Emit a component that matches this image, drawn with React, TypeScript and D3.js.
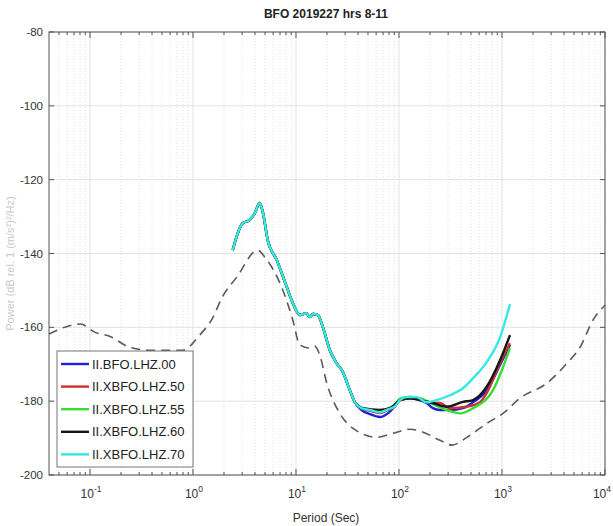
import React from "react";
import * as d3 from "d3";

const TITLE = "BFO 2019227 hrs 8-11";
const X_LABEL = "Period (Sec)";
const Y_LABEL = "Power (dB rel. 1 (m/s²)²/Hz)";
const Y_TICKS = [-80, -100, -120, -140, -160, -180, -200];
const X_DECADES = [-1, 0, 1, 2, 3, 4];

// shared early part (all channels nearly identical)
const commonP = [2.43, 2.64, 3.04, 3.56, 3.98, 4.45, 4.76, 5.32, 6.51, 8.14, 9.31, 10.9, 12.6, 13.6, 14.6, 16.3, 18.2, 21.3, 24.8, 28.5, 33.3, 37.3];
const commonDb = [-139.1, -135.6, -131.8, -130.9, -129.1, -126.3, -128.8, -136.4, -141.8, -149.1, -153.4, -156.7, -156.2, -157.2, -156.4, -156.7, -159.9, -166.2, -169.7, -172.1, -177.0, -180.3];

const cyanTailP = [43.3, 52.2, 65.2, 78.0, 91.2, 102, 119, 148, 185, 232, 312, 418, 523, 710, 957, 1196];
const cyanTailDb = [-181.9, -182.4, -183.0, -182.2, -181.4, -179.7, -178.9, -178.9, -180.3, -179.7, -178.4, -176.5, -173.8, -169.4, -162.7, -153.7];

const blueTailP = [43.3, 52.2, 65.2, 78.0, 91.2, 102, 128, 160, 185, 213, 250, 312, 418, 523, 715, 957, 1196];
const blueTailDb = [-182.4, -183.5, -184.3, -183.3, -181.4, -179.7, -179.2, -179.7, -180.5, -181.9, -182.4, -182.4, -181.9, -180.3, -177.0, -170.2, -164.8];

const redTailP = [43.3, 52.2, 65.2, 78.0, 91.2, 102, 128, 160, 213, 250, 312, 454, 611, 710, 957, 1196];
const redTailDb = [-182.0, -182.6, -183.2, -182.4, -181.4, -179.7, -179.2, -179.4, -180.5, -180.5, -181.9, -181.5, -180.3, -177.8, -169.7, -164.3];

const greenTailP = [43.3, 52.2, 65.2, 78.0, 91.2, 102, 128, 160, 213, 290, 391, 523, 818, 1023, 1196];
const greenTailDb = [-181.8, -182.3, -182.9, -182.0, -181.0, -179.3, -178.8, -179.2, -180.8, -182.4, -183.3, -181.9, -177.0, -170.8, -165.6];

const blackTailP = [44.6, 65.2, 81.6, 91.2, 102, 128, 160, 213, 290, 418, 523, 710, 957, 1196];
const blackTailDb = [-181.9, -182.4, -181.9, -180.9, -179.7, -179.2, -179.7, -180.5, -181.5, -180.2, -179.7, -176.1, -168.9, -162.1];

const nlnmP = [0.04, 0.081, 0.111, 0.155, 0.243, 0.379, 0.794, 1.16, 1.55, 1.9, 2.66, 4.25, 4.98, 7.44, 9.31, 10.9, 13.6, 15.2, 17.0, 19.9, 26.6, 35.6, 61.0, 87.3, 128, 171, 250, 327, 457, 715, 1023, 1496, 2736, 4285, 5730, 7660, 10000];
const nlnmDb = [-161.8, -159.1, -161.3, -162.4, -165.4, -166.2, -166.2, -162.1, -157.5, -152.1, -146.4, -139.1, -141.0, -149.9, -158.0, -164.8, -165.6, -165.1, -167.5, -175.1, -183.3, -187.3, -189.8, -188.7, -187.6, -188.4, -190.6, -191.9, -189.8, -186.0, -183.3, -179.2, -175.1, -169.7, -165.4, -158.0, -154.0];

const SERIES = [
  { name: "II.BFO.LHZ.00", color: "#1f1fe0", p: commonP.concat(blueTailP), db: commonDb.concat(blueTailDb) },
  { name: "II.XBFO.LHZ.50", color: "#d23030", p: commonP.concat(redTailP), db: commonDb.concat(redTailDb) },
  { name: "II.XBFO.LHZ.55", color: "#33e033", p: commonP.concat(greenTailP), db: commonDb.concat(greenTailDb) },
  { name: "II.XBFO.LHZ.60", color: "#151515", p: commonP.concat(blackTailP), db: commonDb.concat(blackTailDb) },
  { name: "II.XBFO.LHZ.70", color: "#35e8e2", p: commonP.concat(cyanTailP), db: commonDb.concat(cyanTailDb) },
];

const W = 613, H = 526;
const L = 49, R = 605, T = 32, B = 475;
const FONT = "'Liberation Sans', Arial, sans-serif";

export default function App() {
  const x = d3.scaleLog().domain([0.04, 10000]).range([L, R]);
  const y = d3.scaleLinear().domain([-200, -80]).range([B, T]);
  const line = d3.line<[number, number]>().x(d => x(d[0])).y(d => y(d[1])).curve(d3.curveMonotoneX);

  const minors: number[] = [];
  for (let e = -2; e <= 3; e++) {
    for (let m = 2; m <= 9; m++) {
      const v = m * Math.pow(10, e);
      if (v > 0.04 && v < 10000) minors.push(v);
    }
  }

  return (
    <svg width={W} height={H} style={{ position: "absolute", left: 0, top: 0, background: "#fff" }}>
      <rect x={0} y={0} width={W} height={H} fill="#fff" />
      {minors.map((v, i) => (
        <line key={"mg" + i} x1={x(v)} x2={x(v)} y1={T} y2={B} stroke="#d8d8d8" strokeWidth={0.8} strokeDasharray="1,2" />
      ))}
      {X_DECADES.map(d => (
        <line key={"gx" + d} x1={x(Math.pow(10, d))} x2={x(Math.pow(10, d))} y1={T} y2={B} stroke="#e3e3e3" strokeWidth={1} />
      ))}
      {Y_TICKS.map(v => (
        <line key={"gy" + v} x1={L} x2={R} y1={y(v)} y2={y(v)} stroke="#e3e3e3" strokeWidth={1} />
      ))}
      <path d={line(nlnmP.map((p, i) => [p, nlnmDb[i]]) as [number, number][]) || ""} fill="none" stroke="#5a5a5a" strokeWidth={1.6} strokeDasharray="9,6" />
      {SERIES.map(s => (
        <path key={s.name} d={line(s.p.map((p, i) => [p, s.db[i]]) as [number, number][]) || ""} fill="none" stroke={s.color} strokeWidth={2.4} strokeLinejoin="round" />
      ))}
      <rect x={L} y={T} width={R - L} height={B - T} fill="none" stroke="#555" strokeWidth={1} />
      {minors.map((v, i) => (
        <g key={"mt" + i}>
          <line x1={x(v)} x2={x(v)} y1={B} y2={B - 3} stroke="#555" />
          <line x1={x(v)} x2={x(v)} y1={T} y2={T + 3} stroke="#555" />
        </g>
      ))}
      {X_DECADES.map((d, i) => {
        const last = i === X_DECADES.length - 1;
        return (
          <g key={"xt" + d}>
            <line x1={x(Math.pow(10, d))} x2={x(Math.pow(10, d))} y1={B} y2={B - 6} stroke="#555" />
            <line x1={x(Math.pow(10, d))} x2={x(Math.pow(10, d))} y1={T} y2={T + 6} stroke="#555" />
            <text x={last ? 611 : x(Math.pow(10, d)) + 1} y={498} textAnchor={last ? "end" : "middle"} fontFamily={FONT} fontSize={12} fill="#333">
              10
              <tspan dy={-6} fontSize={8.5}>{d}</tspan>
            </text>
          </g>
        );
      })}
      {Y_TICKS.map(v => (
        <g key={"yt" + v}>
          <line x1={L} x2={L + 5} y1={y(v)} y2={y(v)} stroke="#555" />
          <line x1={R} x2={R - 5} y1={y(v)} y2={y(v)} stroke="#555" />
          <text x={L - 6} y={y(v) + 4} textAnchor="end" fontFamily={FONT} fontSize={11.5} fill="#333">{v}</text>
        </g>
      ))}
      <text x={326} y={18} textAnchor="middle" fontFamily={FONT} fontSize={12} fontWeight="bold" fill="#222">{TITLE}</text>
      <text x={326} y={522} textAnchor="middle" fontFamily={FONT} fontSize={12} fill="#333">{X_LABEL}</text>
      <text transform={`translate(14,${(T + B) / 2 + 10}) rotate(-90)`} textAnchor="middle" fontFamily={FONT} fontSize={11} fill="#c8c8c8">{Y_LABEL}</text>
      <rect x={57} y={351} width={136} height={116} fill="#fff" stroke="#777" strokeWidth={1} />
      {SERIES.map((s, i) => (
        <g key={"lg" + s.name}>
          <line x1={61} x2={89} y1={364 + i * 22.6} y2={364 + i * 22.6} stroke={s.color} strokeWidth={2.4} />
          <text x={92} y={368.5 + i * 22.6} fontFamily={FONT} fontSize={13} fill="#222">{s.name}</text>
        </g>
      ))}
    </svg>
  );
}
